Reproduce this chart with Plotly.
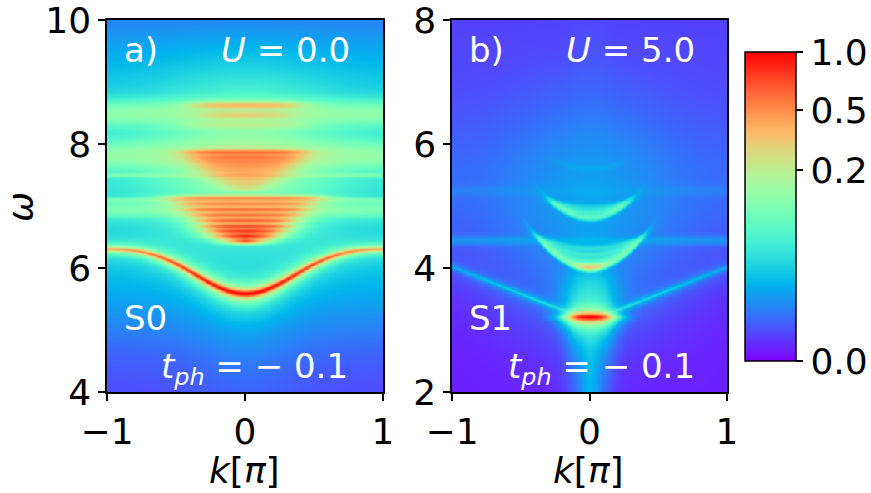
import numpy as np
import plotly.graph_objects as go

# colour scale is a power norm (gamma 0.3) from 0 to 1
GAMMA = 0.3
cbar_ticks = [0.0, 0.2, 0.5, 1.0]
cbar_labels = ["0.0", "0.2", "0.5", "1.0"]

k_grid = np.linspace(-1, 1, 221)
omega_a = np.linspace(4, 10, 481)
omega_b = np.linspace(2, 8, 481)

# ---- panel a) U = 0.0 ----
# lowest polaron band: w(k) = c0 + c1 cos(pi k) + c2 cos(2 pi k)
band_a_coef = [6.01, -0.36, -0.06]
band_a_amp = [0.4, 0.55]          # value at k = +-1, extra at k = 0
band_a_width = [0.03, 0.015]      # lorentz width at k = +-1, extra at k = 0
# smooth background (amp, centre, width)
floor_a = 3e-4
bg_a = [(0.008, 6.2, 0.7), (0.03, 7.9, 0.95)]
# flat features running across the whole zone (centre, amp, width)
flat_a = [(6.95, 0.07, 0.09), (7.10, 0.05, 0.025), (7.50, 0.045, 0.025),
          (7.82, 0.09, 0.15), (8.50, 0.09, 0.13)]
# broad weight around k = 0 (amp, k width, centre, omega width)
central_a = (0.10, 0.40, 7.7, 0.70)
# stripe stacks: omega level, half width in k, peak value
wedge1_levels = [6.44, 6.52, 6.60, 6.68, 6.77, 6.86, 6.95, 7.04, 7.13]
wedge1_halfw = [0.07, 0.17, 0.23, 0.28, 0.32, 0.37, 0.41, 0.46, 0.52]
wedge1_amp = [0.80, 0.78, 0.70, 0.62, 0.54, 0.47, 0.41, 0.36, 0.34]
wedge2_levels = [7.30, 7.37, 7.44, 7.51, 7.58, 7.65, 7.72, 7.79, 7.87]
wedge2_halfw = [0.10, 0.16, 0.21, 0.25, 0.29, 0.32, 0.35, 0.38, 0.41]
wedge2_amp = [0.17, 0.19, 0.21, 0.23, 0.25, 0.27, 0.29, 0.32, 0.38]
wedge3_levels = [8.31, 8.47, 8.63]
wedge3_halfw = [0.40, 0.30, 0.37]
wedge3_amp = [0.07, 0.13, 0.24]
wedge_width = [0.03, 0.03, 0.04]

# ---- panel b) U = 5.0 ----
floor_b = 2e-5
bg_b = [(0.0012, 5.3, 0.7), (0.0003, 7.0, 1.2)]
central_b = (0.005, 0.35, 5.0, 0.9)
flat_b = [(4.45, 0.004, 0.045), (5.25, 0.0012, 0.06)]
# bound state at the bottom of the V
spot_b = (1.0, 3.21, 0.05, 0.12)      # amp, omega, width, k half width
# V shaped branches: w = v0 + slope*sqrt(k^2 + r^2)
vline_b = (3.13, 0.89, 0.10, 0.03)    # v0, slope, r, width
vline_amp = [0.006, 0.02]             # value at k = +-1, extra at k = 0
streak_b = (0.008, 0.04, 3.2)         # amp, k width, upper omega
inner_b = (0.015, 0.12, 3.6, 0.25)
# arcs w = level + curv*k^2 (level, curvature, half width, amp)
arcs_b = [(4.02, 3.3, 0.08, 0.25),
          (4.02, 3.3, 0.34, 0.08), (4.12, 2.6, 0.34, 0.04),
          (4.22, 1.9, 0.34, 0.03), (4.32, 1.2, 0.34, 0.02),
          (4.82, 3.3, 0.26, 0.05), (4.90, 2.2, 0.26, 0.03), (4.98, 1.1, 0.26, 0.015),
          (5.60, 2.0, 0.24, 0.002)]


def gauss(x, c, s):
    return np.exp(-0.5 * ((x - c) / s) ** 2)


def lor(x, c, g):
    return g ** 2 / ((x - c) ** 2 + g ** 2)


def edge(k, hw, soft=0.04):
    return 1.0 / (1.0 + np.exp((np.abs(k) - hw) / soft))


def panel_a():
    K, W = np.meshgrid(k_grid, omega_a)
    v = np.full_like(W, floor_a)
    for a, c, s in bg_a:
        v += a * gauss(W, c, s)
    for c, a, s in flat_a:
        v += a * gauss(W, c, s)
    a, sk, c, sw = central_a
    v += a * gauss(K, 0, sk) * gauss(W, c, sw)
    c0, c1, c2 = band_a_coef
    eps = c0 + c1 * np.cos(np.pi * K) + c2 * np.cos(2 * np.pi * K)
    weight = np.cos(np.pi * K / 2) ** 2
    amp = band_a_amp[0] + band_a_amp[1] * weight
    gw = band_a_width[0] + band_a_width[1] * weight
    v += amp * lor(W, eps, gw)
    stacks = [(wedge1_levels, wedge1_halfw, wedge1_amp),
              (wedge2_levels, wedge2_halfw, wedge2_amp),
              (wedge3_levels, wedge3_halfw, wedge3_amp)]
    for (levels, halfw, amps), sw in zip(stacks, wedge_width):
        for lv, hw, am in zip(levels, halfw, amps):
            v += am * gauss(W, lv, sw) * edge(K, hw, 0.06)
    return v


def panel_b():
    K, W = np.meshgrid(k_grid, omega_b)
    v = np.full_like(W, floor_b)
    for a, c, s in bg_b:
        v += a * gauss(W, c, s)
    a, sk, c, sw = central_b
    v += a * gauss(K, 0, sk) * gauss(W, c, sw)
    for c, a, s in flat_b:
        v += a * gauss(W, c, s)
    a, c, g, hw = spot_b
    v += a * lor(W, c, g) * edge(K, hw, 0.03)
    v0, slope, r, g = vline_b
    eps = v0 + slope * np.sqrt(K ** 2 + r ** 2)
    amp = vline_amp[0] + vline_amp[1] * (1 - np.abs(K))
    v += amp * lor(W, eps, g)
    a, sk, top = streak_b
    v += a * gauss(K, 0, sk) / (1 + np.exp((W - top) / 0.05))
    a, sk, c, sw = inner_b
    v += a * gauss(K, 0, sk) * gauss(W, c, sw)
    for lv, curv, hw, am in arcs_b:
        v += am * gauss(W, lv + curv * K ** 2, 0.035) * edge(K, hw, 0.03)
    return v


def to_display(v):
    return np.round(np.clip(v, 0, 1) ** GAMMA, 3)


# matplotlib "rainbow"
t = np.linspace(0, 1, 21)
rgb = np.stack([np.abs(2 * t - 0.5), np.sin(np.pi * t), np.cos(np.pi * t / 2)], axis=1)
rgb = np.clip(rgb, 0, 1)
rainbow = [[float(tt), "rgb(%d,%d,%d)" % tuple((c * 255).round())] for tt, c in zip(t, rgb)]

W_PX, H_PX = 871, 493
dom_a = [107 / W_PX, 383 / W_PX]
dom_b = [452 / W_PX, 727 / W_PX]
dom_y = [1 - 392 / H_PX, 1 - 20 / H_PX]
FONT = "DejaVu Sans"

fig = go.Figure()
fig.add_trace(go.Heatmap(x=k_grid, y=omega_a, z=to_display(panel_a()), colorscale=rainbow,
                         zmin=0, zmax=1, zsmooth="best", showscale=False,
                         xaxis="x", yaxis="y"))
fig.add_trace(go.Heatmap(
    x=k_grid, y=omega_b, z=to_display(panel_b()), colorscale=rainbow,
    zmin=0, zmax=1, zsmooth="best", xaxis="x2", yaxis="y2",
    colorbar=dict(
        tickvals=[v ** GAMMA for v in cbar_ticks], ticktext=cbar_labels,
        ticks="outside", ticklen=7, tickwidth=1.5, tickcolor="black",
        outlinewidth=1.5, outlinecolor="black", xpad=0, ypad=0,
        thicknessmode="pixels", thickness=51, lenmode="pixels", len=309,
        x=745 / W_PX, xanchor="left", y=1 - 206.5 / H_PX, yanchor="middle",
        ticklabeloverflow="allow",
        tickfont=dict(size=36, color="black", family=FONT),
    )))

axis_style = dict(ticks="outside", ticklen=7, tickwidth=1.5, tickcolor="black",
                  showline=True, mirror=True, linecolor="black", linewidth=1.5,
                  showgrid=False, zeroline=False, automargin=False,
                  ticklabeloverflow="allow",
                  tickfont=dict(size=36, color="black", family=FONT))

fig.update_layout(
    width=W_PX, height=H_PX, margin=dict(l=0, r=0, t=0, b=0, autoexpand=False),
    paper_bgcolor="white", plot_bgcolor="white",
    xaxis=dict(domain=dom_a, range=[-1, 1], tickvals=[-1, 0, 1], **axis_style),
    yaxis=dict(domain=dom_y, range=[4, 10], tickvals=[4, 6, 8, 10], anchor="x", **axis_style),
    xaxis2=dict(domain=dom_b, range=[-1, 1], tickvals=[-1, 0, 1], anchor="y2", **axis_style),
    yaxis2=dict(domain=dom_y, range=[2, 8], tickvals=[2, 4, 6, 8], anchor="x2", **axis_style),
)

# axis titles
for px, py, angle, text in [(244, 470, 0, "<i>k</i>[<i>π</i>]"), (588, 470, 0, "<i>k</i>[<i>π</i>]"),
                            (21, 207, -90, "<i>ω</i>")]:
    fig.add_annotation(x=px / W_PX, y=1 - py / H_PX, xref="paper", yref="paper",
                       xanchor="center", yanchor="middle", text=text, showarrow=False,
                       textangle=angle, font=dict(size=36, color="black", family=FONT))

labels = [
    (122, 50, "left", "a)"), (352, 50, "right", "<i>U</i> = 0.0"),
    (122, 318, "left", "S0"), (350, 368, "right", "<i>t</i><sub><i>ph</i></sub> = − 0.1"),
    (467, 50, "left", "b)"), (697, 50, "right", "<i>U</i> = 5.0"),
    (467, 318, "left", "S1"), (697, 368, "right", "<i>t</i><sub><i>ph</i></sub> = − 0.1"),
]
for px, py, anchor, text in labels:
    fig.add_annotation(x=px / W_PX, y=1 - py / H_PX, xref="paper", yref="paper",
                       xanchor=anchor, yanchor="middle", text=text, showarrow=False,
                       font=dict(size=34, color="white", family=FONT))

fig.write_html("out.html", config={"displayModeBar": False},
               post_script="document.body.style.margin = '0';")
